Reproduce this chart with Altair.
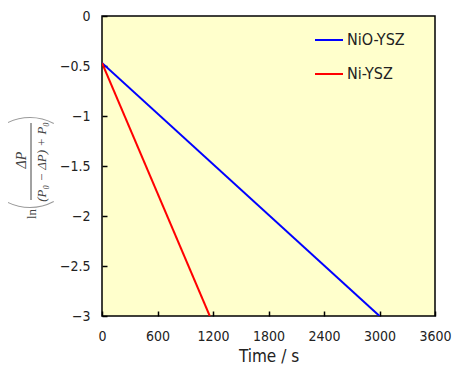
import altair as alt
import pandas as pd
import math

series = ["NiO-YSZ", "NiO-YSZ", "Ni-YSZ", "Ni-YSZ"]
time_s = [0, 3000, 0, 1165]
ln_vals = [-0.47, -3.0, -0.47, -3.0]

x_ticks = [0, 600, 1200, 1800, 2400, 3000, 3600]
y_ticks = [0, -0.5, -1, -1.5, -2, -2.5, -3]

df = pd.DataFrame({"series": series, "t": time_s, "v": ln_vals})
one = pd.DataFrame({"a": [0]})

LABEL_FONT = "DejaVu Sans Condensed, Liberation Sans, sans-serif"
SERIF = "Liberation Serif, DejaVu Serif, serif"

lines = alt.Chart(df).mark_line(strokeWidth=2, clip=True).encode(
    x=alt.X("t:Q", scale=alt.Scale(domain=[0, 3600], nice=False),
            axis=alt.Axis(values=x_ticks, title="Time / s", format="d", domain=False, offset=-5,
                          tickSize=5, tickWidth=1.5, tickColor="black", labelPadding=13,
                          labelFont=LABEL_FONT, labelFontSize=14, labelColor="#222",
                          labelFlush=False, labelOverlap=False,
                          titleFont=LABEL_FONT, titleFontSize=17, titleFontWeight="normal",
                          titleColor="#222", titlePadding=5, grid=False)),
    y=alt.Y("v:Q", scale=alt.Scale(domain=[-3, 0], nice=False),
            axis=alt.Axis(values=y_ticks, title=None, format="~g", domain=False,
                          offset=-5, tickSize=5, tickWidth=1.5, tickColor="black",
                          labelPadding=12, labelFont=LABEL_FONT, labelFontSize=14,
                          labelColor="#222", labelFlush=False, labelOverlap=False, grid=False)),
    color=alt.Color("series:N", sort=["NiO-YSZ", "Ni-YSZ"],
                    scale=alt.Scale(domain=["NiO-YSZ", "Ni-YSZ"], range=["#0000FF", "#FF0000"]),
                    legend=alt.Legend(title=None, orient="none", legendX=212, legendY=9,
                                      symbolType="stroke", symbolStrokeWidth=2, symbolSize=784,
                                      labelFont=LABEL_FONT, labelFontSize=16,
                                      labelColor="#222", rowPadding=11, labelOffset=3)),
)

# y-axis title drawn as a fraction: ln( dP / ((P0 - dP) + P0) ), rotated
num = alt.Chart(one).mark_text(text="ΔP", angle=270, font=SERIF, fontSize=14, fontStyle="italic",
                               color="#444", align="center", baseline="middle").encode(
    x=alt.value(-80), y=alt.value(144))
den = alt.Chart(one).mark_text(text="(P₀ − ΔP) + P₀", angle=270, font=SERIF, fontSize=13,
                               fontStyle="italic", color="#444", align="center",
                               baseline="middle").encode(
    x=alt.value(-60), y=alt.value(146))
ln = alt.Chart(one).mark_text(text="ln", angle=270, font=SERIF, fontSize=13, color="#444",
                              align="center", baseline="middle").encode(
    x=alt.value(-70), y=alt.value(198))
bar = alt.Chart(one).mark_rule(color="#444", strokeWidth=1).encode(
    x=alt.value(-71), y=alt.value(107), y2=alt.value(184))
lp = alt.Chart(one).mark_arc(radius=51, radius2=50, theta=math.pi - 0.49, theta2=math.pi + 0.49,
                             color="#999").encode(x=alt.value(-72), y=alt.value(141))
rp = alt.Chart(one).mark_arc(radius=51, radius2=50, theta=2 * math.pi - 0.49,
                             theta2=2 * math.pi + 0.49, color="#999").encode(
    x=alt.value(-72), y=alt.value(152))

chart = alt.layer(lines, num, den, ln, bar, lp, rp).properties(
    width=333, height=300,
    autosize=alt.AutoSizeParams(type="none"),
    padding={"left": 94, "top": 8, "right": 17, "bottom": 48},
).configure_view(
    fill="#FFFFCC", stroke="black", strokeWidth=1.5
)

chart.save("out.html", embed_options={"renderer": "svg", "actions": False})
